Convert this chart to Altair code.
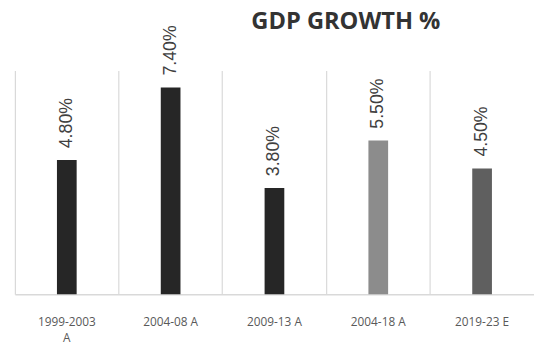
import altair as alt
import pandas as pd

title_text = "GDP GROWTH %"
categories = ["1999-2003 A", "2004-08 A", "2009-13 A", "2004-18 A", "2019-23 E"]
growth = [4.8, 7.4, 3.8, 5.5, 4.5]
bar_colors = ["#262626", "#262626", "#262626", "#8c8c8c", "#5f5f5f"]

df = pd.DataFrame({"period": categories, "growth": growth})

FONT = "Open Sans"

x = alt.X(
    "period:N",
    sort=categories,
    scale=alt.Scale(paddingInner=0, paddingOuter=0),
    axis=alt.Axis(
        title=None,
        bandPosition=0,
        grid=True,
        gridColor="#d9d9d9",
        gridWidth=1.2,
        ticks=False,
        domainColor="#d9d9d9",
        domainWidth=1.5,
        labelAngle=0,
        labelFont=FONT,
        labelFontSize=12,
        labelColor="#595959",
        labelPadding=23,
        labelLineHeight=16,
        labelExpr="datum.label == '1999-2003 A' ? ['1999-2003', 'A'] : datum.label",
    ),
)
y = alt.Y(
    "growth:Q",
    scale=alt.Scale(domain=[0, 8], nice=False),
    axis=None,
)

bars = alt.Chart(df).mark_bar(size=20).encode(
    x=x,
    y=y,
    color=alt.Color(
        "period:N",
        scale=alt.Scale(domain=categories, range=bar_colors),
        legend=None,
    ),
)

labels = alt.Chart(df).transform_calculate(
    lbl="format(datum.growth / 100, '.2%')"
).mark_text(
    angle=270,
    align="left",
    baseline="middle",
    dx=12,
    font="Liberation Sans",
    fontSize=18,
    color="#404040",
).encode(
    x=alt.X("period:N", sort=categories),
    y=y,
    text="lbl:N",
)

title = alt.Chart(pd.DataFrame({"t": [title_text]})).mark_text(
    font=FONT,
    fontSize=24,
    fontWeight="bold",
    color="#333333",
    align="center",
    baseline="alphabetic",
).encode(
    x=alt.value(336),
    y=alt.value(-42),
    text="t:N",
)

chart = (
    alt.layer(bars, labels, title)
    .properties(
        width=527,
        height=227,
        autosize=alt.AutoSizeParams(type="none"),
        padding={"left": 7, "top": 61, "right": 0, "bottom": 50},
    )
    .configure_view(stroke=None)
)

chart.save("out.html", embed_options={"renderer": "svg", "actions": False})
